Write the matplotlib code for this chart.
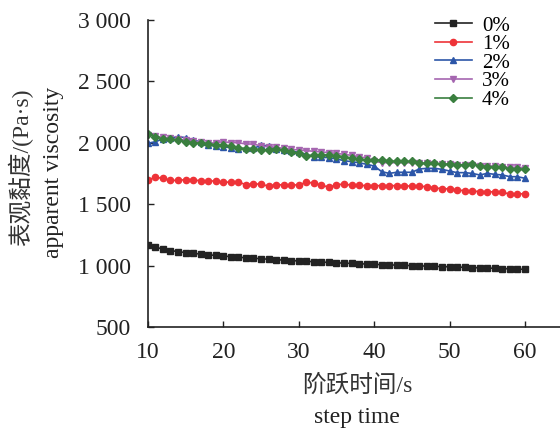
import matplotlib
matplotlib.use("Agg")
import matplotlib.pyplot as plt
import numpy as np

plt.rcParams['font.family'] = ['Liberation Serif', 'Noto Sans CJK SC']
plt.rcParams['mathtext.fontset'] = 'stix'

time_s = list(range(10, 61))

v0 = [1170, 1150, 1135, 1123, 1114, 1106, 1100, 1094, 1088, 1083,
      1078, 1073, 1068, 1064, 1060, 1056, 1052, 1048, 1045, 1041,
      1038, 1035, 1032, 1029, 1026, 1023, 1020, 1018, 1015, 1013,
      1010, 1008, 1006, 1004, 1002, 1000, 998, 996, 994, 992,
      990, 988, 986, 984, 982, 980, 978, 976, 973, 971, 970]
v1 = [1697, 1719, 1711, 1694, 1694, 1700, 1700, 1689, 1689, 1689,
      1678, 1681, 1681, 1659, 1667, 1662, 1648, 1659, 1657, 1657,
      1657, 1678, 1673, 1654, 1640, 1657, 1665, 1654, 1654, 1651,
      1651, 1651, 1651, 1651, 1651, 1646, 1646, 1643, 1632, 1627,
      1624, 1616, 1610, 1608, 1602, 1602, 1600, 1600, 1580, 1583, 1586]
v2 = [1996, 2009, 2031, 2039, 2050, 2042, 2023, 2007, 1982, 1974,
      1968, 1960, 1947, 1955, 1955, 1979, 1977, 1947, 1941, 1933,
      1922, 1906, 1887, 1882, 1879, 1868, 1855, 1846, 1838, 1825,
      1811, 1765, 1751, 1760, 1760, 1760, 1787, 1792, 1792, 1784,
      1770, 1757, 1757, 1751, 1738, 1751, 1743, 1738, 1724, 1724, 1711]
v3 = [2064, 2055, 2044, 2036, 2028, 2023, 2015, 2004, 1996, 2001,
      2009, 2001, 2001, 1990, 1990, 1974, 1968, 1963, 1955, 1947,
      1941, 1936, 1931, 1925, 1920, 1914, 1906, 1898, 1887, 1876,
      1850, 1838, 1838, 1838, 1838, 1838, 1833, 1833, 1830, 1828,
      1825, 1822, 1822, 1820, 1815, 1812, 1810, 1805, 1800, 1800, 1798]
v4 = [2072, 2050, 2031, 2028, 2020, 2009, 2001, 1996, 1990, 1985,
      1979, 1974, 1960, 1952, 1950, 1945, 1945, 1947, 1939, 1925,
      1914, 1895, 1898, 1901, 1901, 1895, 1887, 1874, 1865, 1860,
      1860, 1860, 1852, 1849, 1849, 1849, 1833, 1833, 1833, 1825,
      1825, 1819, 1822, 1827, 1811, 1806, 1806, 1800, 1789, 1784, 1787]

labels = ['0%', '1%', '2%', '3%', '4%']
series = [v0, v1, v2, v3, v4]
colors = ['#232323', '#ee3338', '#2c56a8', '#a566b0', '#3a7f3f']
markers = ['s', 'o', '^', 'v', 'D']
msizes = [4.5, 4.5, 5, 5, 4]

yticks = [500, 1000, 1500, 2000, 2500, 3000]
ytick_labels = ['500', '1 000', '1 500', '2 000', '2 500', '3 000']
xticks = [10, 20, 30, 40, 50, 60]

fig = plt.figure(figsize=(5.6, 4.3), dpi=100)
ax = fig.add_axes([0.264, 0.2395, 0.736, 0.714])

for y, lab, c, m, ms in zip(series, labels, colors, markers, msizes):
    ax.plot(time_s, y, color=c, marker=m, markersize=ms, linewidth=1.2,
            label=lab)

ax.set_xlim(10, 64.64)
ax.set_ylim(500, 3000)
ax.set_xticks(xticks)
ax.set_xticklabels([str(t) for t in xticks])
ax.set_yticks(yticks)
ax.set_yticklabels(ytick_labels)
ax.tick_params(direction='in', length=4, width=1, labelsize=17, colors='#222222')
ax.tick_params(axis='y', pad=12)
ax.tick_params(axis='x', pad=11)
for s in ['top', 'right']:
    ax.spines[s].set_visible(False)
for s in ['left', 'bottom']:
    ax.spines[s].set_linewidth(1.2)
    ax.spines[s].set_color('#222222')

fig.text(0.036, 0.61, '表观黏度/(Pa·s)', rotation=90, ha='center', va='center',
         fontsize=17, color='#333333')
fig.text(0.095, 0.60, 'apparent viscosity', rotation=90, ha='center', va='center',
         fontsize=17, color='#222222')
fig.text(0.638, 0.102, '阶跃时间/s', ha='center', va='center', fontsize=17,
         color='#333333')
fig.text(0.638, 0.030, 'step time', ha='center', va='center', fontsize=17,
         color='#222222')

leg = ax.legend(loc='upper left', bbox_to_anchor=(0.677, 1.04), frameon=False,
                fontsize=15, handlelength=1.75, handletextpad=0.5,
                labelspacing=-0.05, borderaxespad=0)

fig.savefig('out.png', dpi=100)
